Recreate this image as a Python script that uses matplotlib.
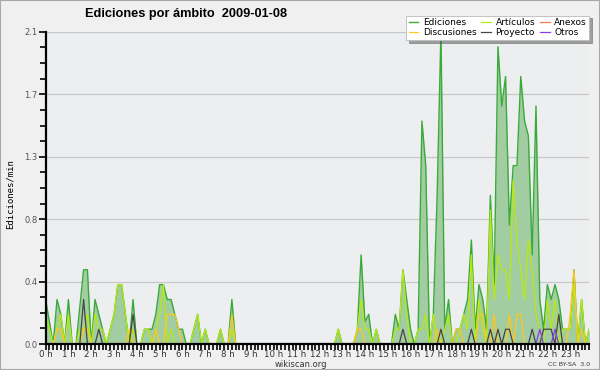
import numpy as np
import matplotlib
matplotlib.use('Agg')
import matplotlib.pyplot as plt
from matplotlib.patches import Rectangle
from matplotlib.ticker import MultipleLocator, FixedLocator

# one point every 10 minutes, 144 points across the day
n_points = 144

ediciones = [
    0.3, 0.15, 0, 0.3, 0.2, 0, 0.3, 0, 0, 0.25, 0.5, 0.5,
    0, 0.3, 0.2, 0.1, 0, 0.1, 0.2, 0.4, 0.4, 0.2, 0, 0.3,
    0, 0, 0.1, 0.1, 0.1, 0.2, 0.4, 0.4, 0.3, 0.3, 0.2, 0.1,
    0.1, 0, 0, 0.1, 0.2, 0, 0.1, 0, 0, 0, 0.1, 0,
    0, 0.3, 0, 0, 0, 0, 0, 0, 0, 0, 0, 0,
    0, 0, 0, 0, 0, 0, 0, 0, 0, 0, 0, 0,
    0, 0, 0, 0, 0, 0.1, 0, 0, 0, 0, 0.1, 0.6,
    0.15, 0.2, 0, 0.1, 0, 0, 0, 0, 0.2, 0.1, 0.5, 0.3,
    0.1, 0, 0.1, 1.5, 1.2, 0, 0.2, 1.0, 2.1, 0.1, 0.3, 0,
    0.1, 0.1, 0.2, 0.3, 0.7, 0.1, 0.4, 0.3, 0.1, 1.0, 0.4, 2.0,
    1.6, 1.8, 0.8, 1.2, 1.2, 1.8, 1.5, 1.4, 0.6, 1.6, 0.3, 0.1,
    0.4, 0.3, 0.4, 0.3, 0.1, 0.1, 0.1, 0.5, 0, 0.3, 0, 0.1,
]

articulos = [
    0.2, 0.1, 0, 0.1, 0.2, 0, 0.2, 0, 0, 0.1, 0.1, 0.2,
    0, 0.2, 0.1, 0.1, 0, 0.1, 0.2, 0.4, 0.4, 0.2, 0, 0.1,
    0, 0, 0.1, 0.1, 0, 0.1, 0.2, 0.4, 0, 0.1, 0, 0,
    0, 0, 0, 0.1, 0.2, 0, 0.1, 0, 0, 0, 0.1, 0,
    0, 0.1, 0, 0, 0, 0, 0, 0, 0, 0, 0, 0,
    0, 0, 0, 0, 0, 0, 0, 0, 0, 0, 0, 0,
    0, 0, 0, 0, 0, 0.1, 0, 0, 0, 0, 0.1, 0.3,
    0.1, 0.1, 0, 0.1, 0, 0, 0, 0, 0.1, 0.1, 0.5, 0.2,
    0, 0, 0.1, 0.1, 0.2, 0, 0.2, 0, 0, 0.1, 0.2, 0,
    0, 0.1, 0.2, 0.1, 0.6, 0, 0.3, 0.1, 0, 0.9, 0.3, 0.6,
    0.5, 0.5, 0.3, 1.1, 0.7, 0.5, 0.3, 0.7, 0.5, 0.2, 0.1, 0,
    0.3, 0.1, 0.3, 0, 0.1, 0.1, 0.1, 0.4, 0, 0.3, 0, 0.1,
]

# sparse series: {point index: value}
discusiones_pts = {3: 0.1, 4: 0.1, 10: 0.1, 11: 0.1, 22: 0.1, 29: 0.1,
                   32: 0.2, 33: 0.2, 34: 0.2, 35: 0.1, 49: 0.2, 82: 0.1,
                   83: 0.1, 103: 0.1, 108: 0.1, 109: 0.1, 114: 0.2, 115: 0.2,
                   118: 0.2, 122: 0.2, 124: 0.2, 125: 0.2, 138: 0.2,
                   139: 0.5, 141: 0.1}
anexos_pts = {}
proyecto_pts = {10: 0.3, 14: 0.1, 23: 0.2, 94: 0.1, 104: 0.1, 112: 0.1,
                117: 0.1, 119: 0.1, 121: 0.1, 122: 0.1, 128: 0.1, 131: 0.1,
                132: 0.1, 133: 0.1, 135: 0.2}
otros_pts = {130: 0.1, 134: 0.1}

hour_labels = ['%d h' % h for h in range(24)]
y_ticks = [0.0, 0.42, 0.84, 1.26, 1.68, 2.1]


def from_pts(pts):
    arr = np.zeros(n_points)
    for k, v in pts.items():
        arr[k] = v
    return arr


x = np.arange(n_points)
series = [
    ('Artículos', np.array(articulos), '#b8ea10'),
    ('Discusiones', from_pts(discusiones_pts), '#ffc81e'),
    ('Anexos', from_pts(anexos_pts), '#ff7a45'),
    ('Proyecto', from_pts(proyecto_pts), '#454545'),
    ('Otros', from_pts(otros_pts), '#8a3cf0'),
]

fig = plt.figure(figsize=(6, 3.7), dpi=100, facecolor='#f0f0f0')
fig.patches.append(Rectangle((0, 0), 1, 1, transform=fig.transFigure,
                             fill=False, edgecolor='#a8a8a8', linewidth=1.5))
ax = fig.add_axes([0.076, 0.07, 0.906, 0.844])
ax.set_facecolor('#edeef0')

ed = np.array(ediciones)
ax.fill_between(x, 0, ed, color='#a2cca2', linewidth=0, zorder=2)
h_ed, = ax.plot(x, ed, color='#3aaa3a', linewidth=1.0, zorder=3, label='Ediciones')
handles = {'Ediciones': h_ed}
for name, vals, col in series:
    h, = ax.plot(x, vals, color=col, linewidth=0.9, zorder=4, label=name)
    handles[name] = h

ax.set_xlim(0, n_points - 1)
ax.set_ylim(0, 2.1)
ax.yaxis.set_major_locator(FixedLocator(y_ticks))
ax.yaxis.set_minor_locator(MultipleLocator(0.105))
ax.set_yticklabels(['%.1f' % v for v in y_ticks])
ax.xaxis.set_major_locator(FixedLocator(range(0, n_points, 6)))
ax.xaxis.set_minor_locator(MultipleLocator(1))
ax.set_xticklabels(hour_labels)

ax.grid(axis='y', color='#c8c8c8', linewidth=0.9, zorder=0)
ax.set_axisbelow(True)
for s in ['top', 'right']:
    ax.spines[s].set_visible(False)
for s in ['left', 'bottom']:
    ax.spines[s].set_linewidth(1.6)
    ax.spines[s].set_color('black')
    ax.spines[s].set_zorder(6)
ax.tick_params(axis='y', which='major', length=5, width=1.2, labelsize=6,
               labelcolor='#555555', pad=1)
ax.tick_params(axis='y', which='minor', length=4, width=1.2)
ax.tick_params(axis='x', which='both', length=4, width=1.2, labelsize=6.2,
               labelcolor='#333333', pad=0.3)

fig.text(0.142, 0.962, 'Ediciones por ámbito  2009-01-08', fontsize=9.2,
         fontweight='bold', family='Liberation Sans', va='center', ha='left')
fig.text(0.017, 0.475, 'Ediciones/min', rotation=90, fontsize=6.5,
         family='DejaVu Sans Mono', va='center', ha='center')
fig.text(0.502, 0.015, 'wikiscan.org', fontsize=6, color='#333333',
         ha='center', va='center')
fig.text(0.983, 0.016, 'CC BY-SA  3.0', fontsize=4.5, color='#333333',
         ha='right', va='center')

order = ['Ediciones', 'Discusiones', 'Artículos', 'Proyecto', 'Anexos', 'Otros']
leg = fig.legend([handles[k] for k in order], order, ncol=3,
                 loc='upper right', bbox_to_anchor=(0.99, 0.97),
                 fontsize=6.5, handlelength=1.1, handletextpad=0.5,
                 columnspacing=0.5, labelspacing=0.1, borderpad=0.3,
                 fancybox=False, shadow=True, framealpha=1,
                 edgecolor='#bbbbbb', facecolor='white')
leg.get_frame().set_linewidth(0.6)

fig.savefig('out.png', dpi=100, facecolor=fig.get_facecolor())
